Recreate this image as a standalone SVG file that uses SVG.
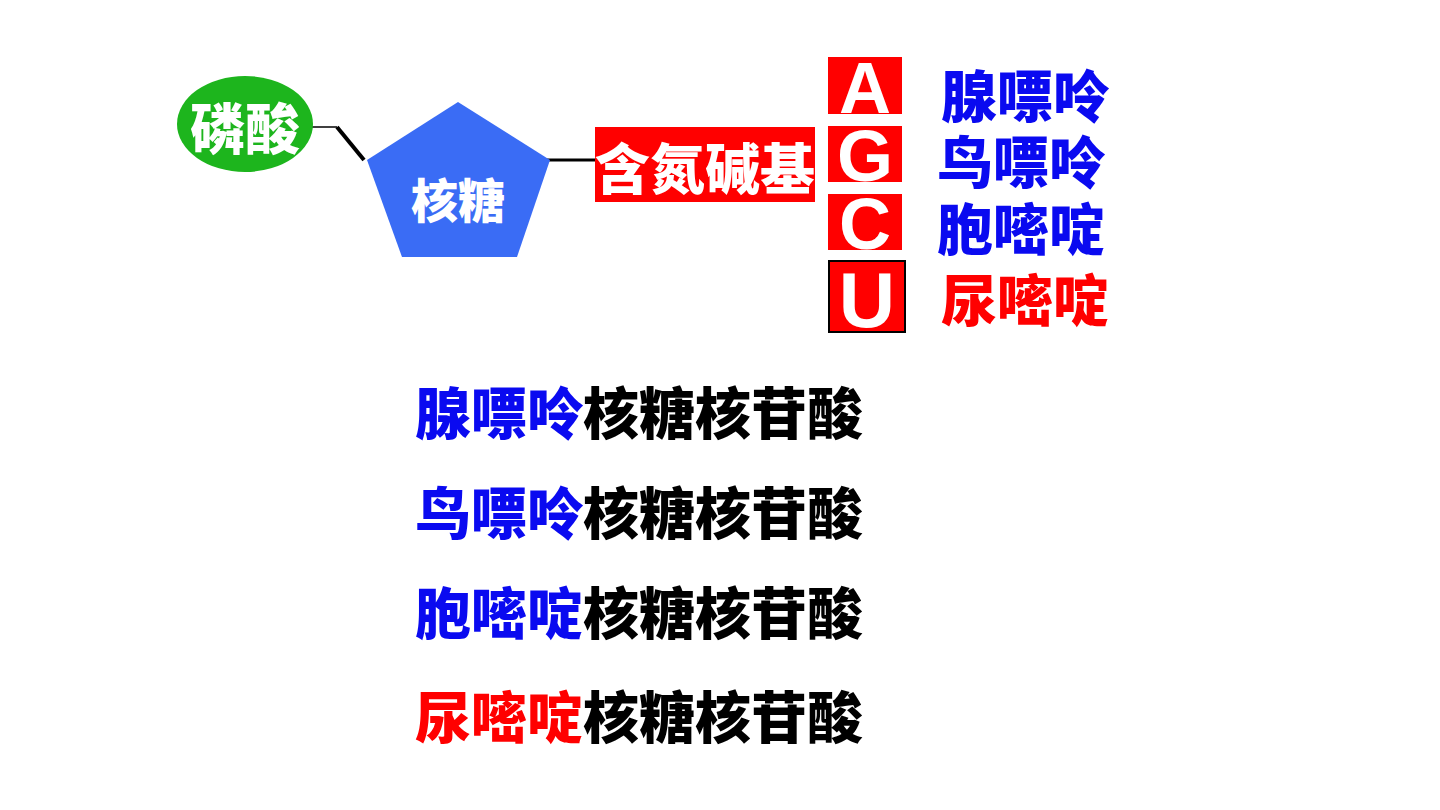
<svg xmlns="http://www.w3.org/2000/svg" width="1440" height="810" viewBox="0 0 1440 810">
<style>
.cjk{font-family:"Noto Sans CJK SC","Noto Sans",sans-serif;font-weight:900}
.w{fill:#ffffff}
.blue{fill:#0A0AF0}
.red{fill:#FF0000}
.blk{fill:#000000}
.lat{font-family:"Liberation Sans",Arial,sans-serif;font-weight:700;fill:#ffffff;text-anchor:middle}
.box{fill:#FF0000}
</style>
<rect width="1440" height="810" fill="#ffffff"/>
<g id="connectors" stroke="#000" fill="none">
<line x1="298" y1="127" x2="337" y2="127" stroke-width="1.5"/>
<line x1="337" y1="127" x2="364" y2="160" stroke-width="4"/>
<line x1="545" y1="160" x2="597" y2="160" stroke-width="3"/>
</g>
<g id="phosphate">
<ellipse cx="245" cy="124" rx="68" ry="48" fill="#1DB51D"/>
<text class="cjk w" x="245" y="149" font-size="55" text-anchor="middle">磷酸</text>
</g>
<g id="ribose">
<polygon points="458,102 550,160 517,257 402,257 367,160" fill="#3A6CF5"/>
<text class="cjk w" x="458" y="218" font-size="47" text-anchor="middle">核糖</text>
</g>
<g id="base">
<rect x="595" y="127" width="220" height="75" fill="#FF0000"/>
<text class="cjk w" x="705" y="189" font-size="55" text-anchor="middle">含氮碱基</text>
</g>
<g id="letterA">
<rect class="box" x="828" y="57" width="74" height="57"/>
<text class="lat" x="865" y="113" font-size="72">A</text>
</g>
<g id="letterG">
<rect class="box" x="828" y="126" width="74" height="56"/>
<text class="lat" x="865" y="181" font-size="72">G</text>
</g>
<g id="letterC">
<rect class="box" x="828" y="194" width="74" height="56"/>
<text class="lat" x="865" y="249" font-size="72">C</text>
</g>
<g id="letterU">
<rect class="box" x="829" y="261" width="76" height="71" stroke="#000" stroke-width="2"/>
<text class="lat" x="867" y="327" font-size="78">U</text>
</g>
<g id="names">
<text class="cjk blue" x="941" y="117" font-size="56">腺嘌呤</text>
<text class="cjk blue" x="937" y="183" font-size="56">鸟嘌呤</text>
<text class="cjk blue" x="937" y="250" font-size="56">胞嘧啶</text>
<text class="cjk red" x="941" y="321" font-size="56">尿嘧啶</text>
</g>
<g id="nucleotides">
<text class="cjk" x="415" y="434" font-size="56"><tspan class="blue">腺嘌呤</tspan><tspan class="blk">核糖核苷酸</tspan></text>
<text class="cjk" x="415" y="534" font-size="56"><tspan class="blue">鸟嘌呤</tspan><tspan class="blk">核糖核苷酸</tspan></text>
<text class="cjk" x="415" y="634" font-size="56"><tspan class="blue">胞嘧啶</tspan><tspan class="blk">核糖核苷酸</tspan></text>
<text class="cjk" x="415" y="738" font-size="56"><tspan class="red">尿嘧啶</tspan><tspan class="blk">核糖核苷酸</tspan></text>
</g>
</svg>
